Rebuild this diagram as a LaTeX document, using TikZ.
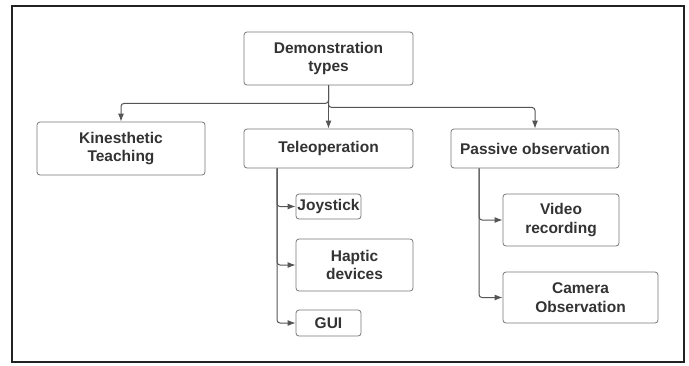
\documentclass[tikz,border=0pt]{standalone}
\usepackage{fontspec}
\setmainfont{Liberation Sans}
\usetikzlibrary{arrows.meta}
\definecolor{txtc}{HTML}{333333}
\definecolor{boxc}{HTML}{777777}
\definecolor{linec}{HTML}{555555}
\definecolor{framec}{HTML}{222222}
\begin{document}
\begin{tikzpicture}[x=1pt,y=-1pt,
  box/.style={draw=boxc, line width=0.8pt, rounded corners=3pt, inner sep=0pt,
    align=center, text=txtc, font=\fontsize{15.5}{18.5}\selectfont\bfseries},
  conn/.style={draw=linec, line width=1pt, rounded corners=3pt,
    -{Latex[length=8pt,width=6pt]}}]
\useasboundingbox (0,0) rectangle (689,365);
\draw[framec, line width=2pt] (12,5.5) rectangle (683.5,362);
\node[box, minimum width=169pt, minimum height=53pt] (demo) at (328.5,58.5) {Demonstration\\types};
\node[box, minimum width=168pt, minimum height=53pt] (kin) at (121,148.5) {Kinesthetic\\Teaching};
\node[box, minimum width=169pt, minimum height=39pt] (tele) at (328.5,148.5) {Teleoperation};
\node[box, minimum width=168pt, minimum height=39pt] (pass) at (535,148.5) {Passive observation};
\node[box, minimum width=65pt, minimum height=25pt] (joy) at (328.5,206.5) {Joystick};
\node[box, minimum width=117pt, minimum height=52pt] (hap) at (354.5,265) {Haptic\\devices};
\node[box, minimum width=65pt, minimum height=26pt] (gui) at (328.5,323) {GUI};
\node[box, minimum width=116pt, minimum height=52pt] (vid) at (561,220) {Video\\recording};
\node[box, minimum width=155pt, minimum height=51pt] (cam) at (580.5,297.5) {Camera\\Observation};
\coordinate (tv) at (277,0);
\coordinate (pv) at (479,0);
% top connectors
\draw[conn] (demo.south) -- ++(0,18) -| (kin.north);
\draw[conn] (demo.south) -- (tele.north);
\draw[conn] (demo.south) -- ++(0,22) -| (pass.north);
% teleoperation children
\draw[conn] (tele.south -| tv) |- (joy.west);
\draw[conn] (tele.south -| tv) |- (hap.west);
\draw[conn] (tele.south -| tv) |- (gui.west);
% passive children
\draw[conn] (pass.south -| pv) |- (vid.west);
\draw[conn] (pass.south -| pv) |- (cam.west);
\end{tikzpicture}
\end{document}
